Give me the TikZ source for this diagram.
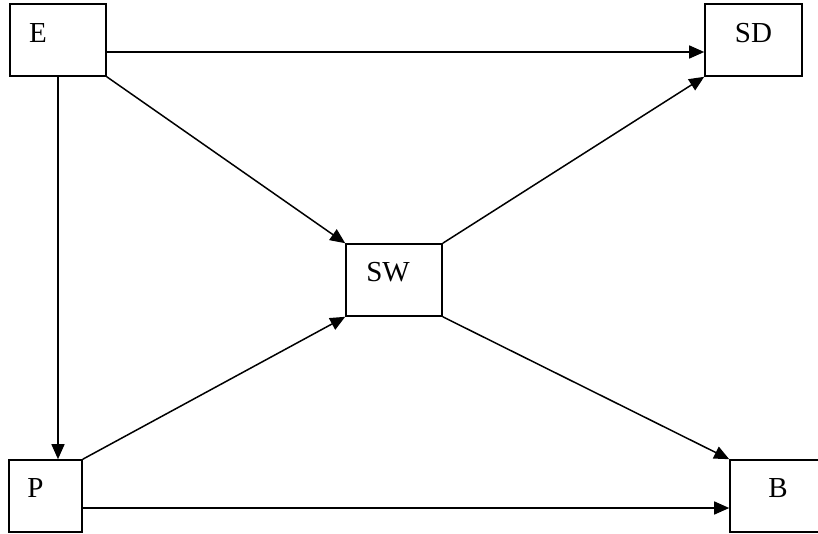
\documentclass[tikz,border=0pt]{standalone}
\usepackage{fontspec}
\setmainfont{Liberation Serif}
\usepackage{tikz}
\usetikzlibrary{arrows.meta}

\tikzset{
    box/.style={draw,line width=1.6pt,minimum height=72pt,inner sep=0pt},
    link/.style={line width=1.5pt,-{Triangle[length=15pt,width=13pt]}}
}

\begin{document}
\begin{tikzpicture}[x=1pt,y=-1pt,font=\fontsize{29}{32}\selectfont]
                \clip (0,0) rectangle (818,533);
                % the five boxes
                \node[box,minimum width=96pt,label={[xshift=-20pt,yshift=7pt]center:E}] (E) at (58,40) {};
                \node[box,minimum width=97pt,label={[yshift=7pt]center:SD}] (SD) at (753.5,40) {};
                \node[box,minimum width=96pt,label={[xshift=-6pt,yshift=8pt]center:SW}] (SW) at (394,280) {};
                \node[box,minimum width=73pt,label={[xshift=-10pt,yshift=8pt]center:P}] (P) at (45.5,496) {};
                \node[box,minimum width=100pt,label={[xshift=-2pt,yshift=8pt]center:B}] (B) at (780,496) {};
                % arrows
                \draw[link] ([yshift=-12pt]E.east) -- ([yshift=-12pt]SD.west);
                \draw[link] (E.south) -- (E.south |- P.north);
                \draw[link] (E.south east) -- (SW.north west);
                \draw[link] (SW.north east) -- (SD.south west);
                \draw[link] (SW.south east) -- (B.north west);
                \draw[link] (P.north east) -- (SW.south west);
                \draw[link] ([yshift=-12pt]P.east) -- ([yshift=-12pt]B.west);
            \end{tikzpicture}
\end{document}
